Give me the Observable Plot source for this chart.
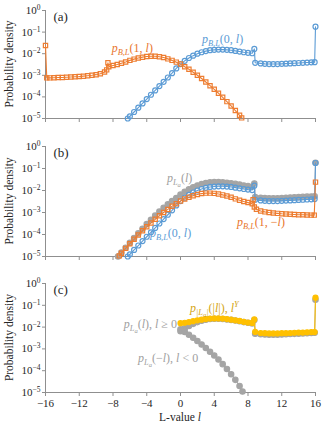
<!DOCTYPE html>
<html><head><meta charset="utf-8">
<script src="https://cdn.jsdelivr.net/npm/d3@7"></script>
<script src="https://cdn.jsdelivr.net/npm/@observablehq/plot@0.6"></script>
<style>
html,body{margin:0;padding:0;background:#fff;}
#chart{width:328px;height:433px;overflow:hidden;}
#chart svg{display:block;}
#chart svg text{font-family:'Liberation Serif','Times New Roman',serif;}
</style></head><body><div id="chart"></div>
<script>
// ---------- data ----------
const xTicks = [-16, -12, -8, -4, 0, 4, 8, 12, 16];
const yTicks = [1, 1e-1, 1e-2, 1e-3, 1e-4, 1e-5];

// p_B,L(0, l)  (panels a, b)
const blueL = [-6.25,-6,-5.5,-5,-4.5,-4,-3.5,-3,-2.5,-2,-1.5,-1,-0.5,0,0.5,1,1.5,2,2.5,3,3.5,4,4.5,5,5.5,6,6.5,7,7.5,8,8.5,8.75,8.85,9.5,10,10.5,11,11.5,12,12.5,13,13.5,14,14.5,15,15.5,15.9,16];
const blueP = [1.0e-5,1.26e-5,2.0e-5,3.16e-5,5.0e-5,7.9e-5,1.26e-4,2.0e-4,3.16e-4,5.0e-4,7.9e-4,1.26e-3,2.09e-3,3.31e-3,4.68e-3,6.31e-3,8.13e-3,1.0e-2,1.17e-2,1.32e-2,1.45e-2,1.51e-2,1.55e-2,1.55e-2,1.51e-2,1.45e-2,1.35e-2,1.26e-2,1.17e-2,1.10e-2,1.05e-2,1.66e-2,3.80e-3,3.55e-3,3.39e-3,3.31e-3,3.31e-3,3.31e-3,3.39e-3,3.47e-3,3.55e-3,3.63e-3,3.72e-3,3.80e-3,3.89e-3,3.98e-3,4.07e-3,1.78e-1];

// p_B,L(1, l)  (panel a; panel b plots it against -l)
const orangeL = [-16,-15.85,-15.5,-15,-14.5,-14,-13.5,-13,-12.5,-12,-11.5,-11,-10.5,-10,-9.5,-9,-8.75,-8.6,-8.5,-8,-7.5,-7,-6.5,-6,-5.5,-5,-4.5,-4,-3.5,-3,-2.5,-2,-1.5,-1,-0.5,0,0.5,1,1.5,2,2.5,3,3.5,4,4.5,5,5.5,6,6.5,7,7.25];
const orangeP = [2.40e-2,7.59e-4,7.59e-4,7.76e-4,7.94e-4,7.94e-4,8.13e-4,8.32e-4,8.51e-4,8.71e-4,9.12e-4,9.55e-4,1.0e-3,1.07e-3,1.17e-3,1.41e-3,1.78e-3,3.80e-3,2.51e-3,2.82e-3,3.16e-3,3.63e-3,4.17e-3,4.90e-3,5.62e-3,6.31e-3,6.92e-3,7.41e-3,7.59e-3,7.59e-3,7.24e-3,6.61e-3,5.75e-3,4.90e-3,4.07e-3,3.31e-3,2.51e-3,1.91e-3,1.38e-3,1.0e-3,7.08e-4,4.90e-4,3.31e-4,2.24e-4,1.48e-4,9.55e-5,6.03e-5,3.80e-5,2.34e-5,1.41e-5,1.07e-5];

// p_La(l)  (panel b; its l >= 0 part also in panel c)
const grayL = [-7.4,-7,-6.5,-6,-5.5,-5,-4.5,-4,-3.5,-3,-2.5,-2,-1.5,-1,-0.5,0,0.5,1,1.5,2,2.5,3,3.5,4,4.5,5,5.5,6,6.5,7,7.5,8,8.5,8.75,8.85,9.5,10,10.5,11,11.5,12,12.5,13,13.5,14,14.5,15,15.5,15.9,16];
const grayP = [1.0e-5,1.51e-5,2.51e-5,4.17e-5,6.92e-5,1.12e-4,1.82e-4,2.95e-4,4.68e-4,7.24e-4,1.10e-3,1.62e-3,2.34e-3,3.31e-3,4.57e-3,6.46e-3,8.71e-3,1.12e-2,1.41e-2,1.70e-2,1.95e-2,2.19e-2,2.34e-2,2.40e-2,2.40e-2,2.34e-2,2.24e-2,2.14e-2,2.0e-2,1.86e-2,1.70e-2,1.58e-2,1.48e-2,2.09e-2,5.01e-3,4.68e-3,4.57e-3,4.47e-3,4.47e-3,4.47e-3,4.57e-3,4.68e-3,4.79e-3,4.90e-3,5.01e-3,5.13e-3,5.25e-3,5.37e-3,5.50e-3,1.82e-1];

// p_La(-l), l < 0  (panel c, plotted against |l|)
const grayNegL = [0,0.5,1,1.5,2,2.5,3,3.5,4,4.5,5,5.5,6,6.5,7,7.35];
const grayNegP = [7.94e-3,6.03e-3,4.47e-3,3.24e-3,2.29e-3,1.58e-3,1.10e-3,7.41e-4,5.01e-4,3.24e-4,2.0e-4,1.20e-4,6.92e-5,3.80e-5,2.0e-5,1.12e-5];

// p_|La|(|l|)  (panel c)
const yellowL = [0,0.5,1,1.5,2,2.5,3,3.5,4,4.5,5,5.5,6,6.5,7,7.5,8,8.5,8.75,8.85,9.5,10,10.5,11,11.5,12,12.5,13,13.5,14,14.5,15,15.5,15.9,16];
const yellowP = [1.51e-2,1.58e-2,1.70e-2,1.86e-2,2.04e-2,2.19e-2,2.34e-2,2.45e-2,2.51e-2,2.51e-2,2.45e-2,2.34e-2,2.19e-2,2.04e-2,1.91e-2,1.74e-2,1.62e-2,1.55e-2,2.24e-2,6.03e-3,5.37e-3,5.25e-3,5.13e-3,5.13e-3,5.13e-3,5.25e-3,5.25e-3,5.37e-3,5.50e-3,5.62e-3,5.62e-3,5.75e-3,5.89e-3,5.89e-3,2.24e-1];

// ---------- rendering ----------
const FONT = "'Liberation Serif','Times New Roman',serif";
const AXIS = "#8f8f8f";
const C = {blue: "#5b9bd5", orange: "#ed7d31", gray: "#a5a5a5", yellow: "#ffc000"};
const T = {blue: "#5b9bd5", orange: "#e8752c", gray: "#a0a0a0", yellow: "#d4a411", ink: "#262626"};

const rows = (ls, ps) => ls.map((l, i) => ({l, p: ps[i]}));

function series(data, color, symbol, filled, r) {
  return [
    Plot.line(data, {x: "l", y: "p", stroke: color, strokeWidth: 1.1}),
    Plot.dot(data, {x: "l", y: "p", symbol, r, stroke: color, strokeWidth: 1.2, fill: filled ? color : "none"})
  ];
}

function rich(svg, x, y, parts, fill, size = 12, anchor = "start") {
  const t = d3.select(svg).append("text")
    .attr("x", x).attr("y", y).attr("fill", fill)
    .attr("text-anchor", anchor).attr("font-family", FONT).attr("font-size", size);
  let shift = 0;
  for (const [s, kind] of parts) {
    const target = kind === "sub" ? 3 : kind === "subsub" ? 5 : kind === "sup" ? -5 : 0;
    const fs = (kind === "sub" || kind === "sup") ? size * 0.7 : kind === "subsub" ? size * 0.55 : size;
    t.append("tspan").attr("dy", target - shift).attr("font-size", fs)
      .attr("font-style", kind === "n" ? "normal" : "italic").text(s);
    shift = target;
  }
  return t;
}

function panel({height, mt, mb, marks, showX, tag, labels}) {
  const plot = Plot.plot({
    width: 328, height, marginLeft: 45, marginRight: 13, marginTop: mt, marginBottom: mb,
    style: {fontFamily: FONT, fontSize: "11px", background: "white", color: T.ink},
    x: {domain: [-16, 16]},
    y: {type: "log", domain: [1e-5, 1]},
    marks: [
      Plot.axisY({ticks: yTicks, tickSize: 3, tickPadding: 2, stroke: AXIS, fill: T.ink, label: null,
        tickFormat: d => "10^" + Math.round(Math.log10(d))}),
      Plot.axisX({ticks: xTicks, tickSize: 4, tickPadding: 3, stroke: AXIS, fill: T.ink, label: null,
        tickFormat: showX ? (d => d < 0 ? "\u2212" + (-d) : String(d)) : () => ""}),
      Plot.ruleX([-16], {stroke: AXIS}),
      Plot.ruleY([1e-5], {stroke: AXIS}),
      ...marks
    ]
  });
  plot.querySelectorAll('g[aria-label="y-axis tick label"] text').forEach(el => {
    const s = el.textContent;
    if (!s.startsWith("10^")) return;
    const e = s.slice(3).replace("-", "\u2212");
    el.textContent = "";
    const ns = "http://www.w3.org/2000/svg";
    const a = document.createElementNS(ns, "tspan"); a.textContent = "10"; el.appendChild(a);
    const b = document.createElementNS(ns, "tspan"); b.textContent = e;
    b.setAttribute("dy", "-4"); b.setAttribute("font-size", "7.5"); el.appendChild(b);
  });
  const sx = plot.scale("x"), sy = plot.scale("y");
  d3.select(plot).append("text")
    .attr("transform", `translate(13,${sy.apply(10 ** -2.5)}) rotate(-90)`)
    .attr("text-anchor", "middle").attr("font-family", FONT).attr("font-size", 11.5)
    .attr("fill", T.ink).text("Probability density");
  rich(plot, sx.apply(-15), sy.apply(10 ** -0.5), [[tag, "n"]], T.ink, 13);
  for (const lb of labels) rich(plot, sx.apply(lb.l), sy.apply(lb.p), lb.parts, lb.fill, 12, lb.anchor || "start");
  if (showX) rich(plot, sx.apply(0), height - 12, [["L-value ", "n"], ["l", "i"]], T.ink, 11.5, "middle");
  return plot;
}

const root = document.getElementById("chart");

root.appendChild(panel({
  height: 137, mt: 10, mb: 19, showX: false, tag: "(a)",
  marks: [
    ...series(rows(blueL, blueP), C.blue, "circle", false, 2.5),
    ...series(rows(orangeL, orangeP), C.orange, "square", false, 2.4)
  ],
  labels: [
    {l: -8.1, p: 10 ** -1.94, fill: T.orange, parts: [["p", "i"], ["B,L", "sub"], ["(1, ", "n"], ["l", "i"], [")", "n"]]},
    {l: 2.6, p: 10 ** -1.52, fill: T.blue, parts: [["p", "i"], ["B,L", "sub"], ["(0, ", "n"], ["l", "i"], [")", "n"]]}
  ]
}));

root.appendChild(panel({
  height: 137, mt: 9, mb: 18, showX: false, tag: "(b)",
  marks: [
    ...series(rows(grayL, grayP), C.gray, "circle", true, 2.7),
    ...series(rows(blueL, blueP), C.blue, "circle", false, 2.5),
    ...series(rows(orangeL.map(l => -l), orangeP), C.orange, "square", false, 2.4)
  ],
  labels: [
    {l: -1.55, p: 10 ** -1.62, fill: T.gray, parts: [["p", "i"], ["L", "sub"], ["a", "subsub"], ["(", "n"], ["l", "i"], [")", "n"]]},
    {l: -3.56, p: 10 ** -4.12, fill: T.blue, parts: [["p", "i"], ["B,L", "sub"], ["(0, ", "n"], ["l", "i"], [")", "n"]]},
    {l: 6.75, p: 10 ** -3.64, fill: T.orange, parts: [["p", "i"], ["B,L", "sub"], ["(1, \u2212", "n"], ["l", "i"], [")", "n"]]}
  ]
}));

const grayPos = rows(grayL, grayP).filter(d => d.l >= 0);
root.appendChild(panel({
  height: 159, mt: 9, mb: 41, showX: true, tag: "(c)",
  marks: [
    ...series(grayPos, C.gray, "circle", true, 2.7),
    ...series(rows(grayNegL, grayNegP), C.gray, "circle", true, 2.7),
    ...series(rows(yellowL, yellowP), C.yellow, "circle", true, 2.5)
  ],
  labels: [
    {l: -0.36, p: 10 ** -2.05, fill: T.gray, anchor: "end", parts: [["p", "i"], ["L", "sub"], ["a", "subsub"], ["(", "n"], ["l", "i"], ["), ", "n"], ["l", "i"], [" \u2265 0", "n"]]},
    {l: -4.98, p: 10 ** -3.62, fill: T.gray, parts: [["p", "i"], ["L", "sub"], ["a", "subsub"], ["(\u2212", "n"], ["l", "i"], ["), ", "n"], ["l", "i"], [" < 0", "n"]]},
    {l: 1.18, p: 10 ** -1.31, fill: T.yellow, parts: [["p", "i"], ["|L", "sub"], ["a", "subsub"], ["|", "sub"], ["(|", "n"], ["l", "i"], ["|), ", "n"], ["l", "i"], ["Y", "sup"]]}
  ]
}));
</script></body></html>
